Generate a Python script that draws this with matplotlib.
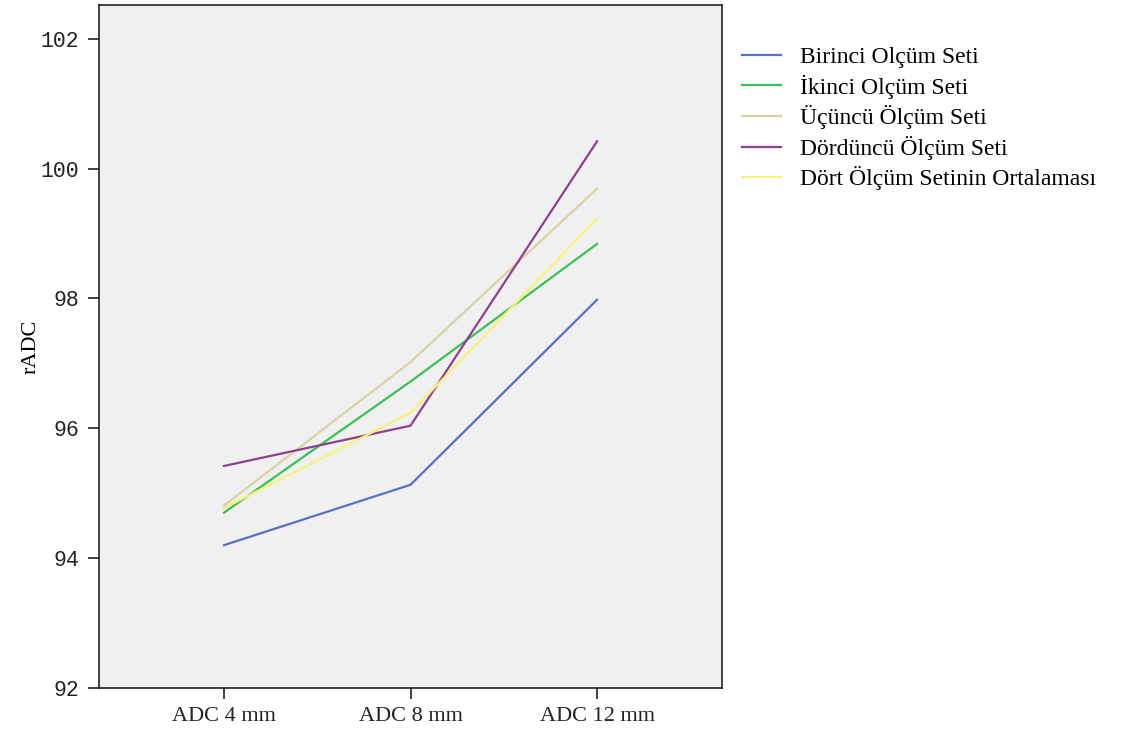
import matplotlib.pyplot as plt

# rADC ortalamalari, her olcum seti icin
kategoriler = ['ADC 4 mm', 'ADC 8 mm', 'ADC 12 mm']
birinci = [94.20, 95.13, 97.98]
ikinci = [94.70, 96.72, 98.84]
ucuncu = [94.81, 97.02, 99.69]
dorduncu = [95.42, 96.04, 100.42]
ortalama = [94.77, 96.24, 99.23]

seriler = [
    ('Birinci Olçüm Seti', birinci, '#5a6fc4'),
    ('İkinci Olçüm Seti', ikinci, '#3cbf55'),
    ('Üçüncü Ölçüm Seti', ucuncu, '#d8d2a4'),
    ('Dördüncü Ölçüm Seti', dorduncu, '#8e3f8e'),
    ('Dört Ölçüm Setinin Ortalaması', ortalama, '#f7f27c'),
]

plt.rcParams['font.family'] = ['Liberation Serif', 'DejaVu Serif']

fig = plt.figure(figsize=(11.26, 7.42), dpi=100)
ax = fig.add_axes([99/1126, 1 - 688/742, (722-99)/1126, (688-5)/742])
ax.set_facecolor('#f0f0f0')

x = range(len(kategoriler))
for ad, deger, renk in seriler:
    ax.plot(x, deger, color=renk, lw=1.6, label=ad)

ax.set_xlim(-0.67, 2.67)
ax.set_ylim(92, 102.52)
ax.set_xticks(list(x))
ax.set_xticklabels(kategoriler, fontsize=16)
ax.set_yticks([92, 94, 96, 98, 100, 102])
for t in ax.get_yticklabels():
    t.set_family('Liberation Mono')
    t.set_fontsize(15.5)
ax.tick_params(direction='out', length=8, width=1.2, colors='#222222', pad=6)
for s in ax.spines.values():
    s.set_linewidth(1.2)
    s.set_color('#222222')
ax.set_ylabel('rADC', fontsize=16, labelpad=0)

fig.legend(loc='upper left', bbox_to_anchor=(721/1126, 1 - 25/742), frameon=False,
           fontsize=17, handlelength=1.65, labelspacing=0.28, handletextpad=0.8)

fig.savefig('out.png', dpi=100)
